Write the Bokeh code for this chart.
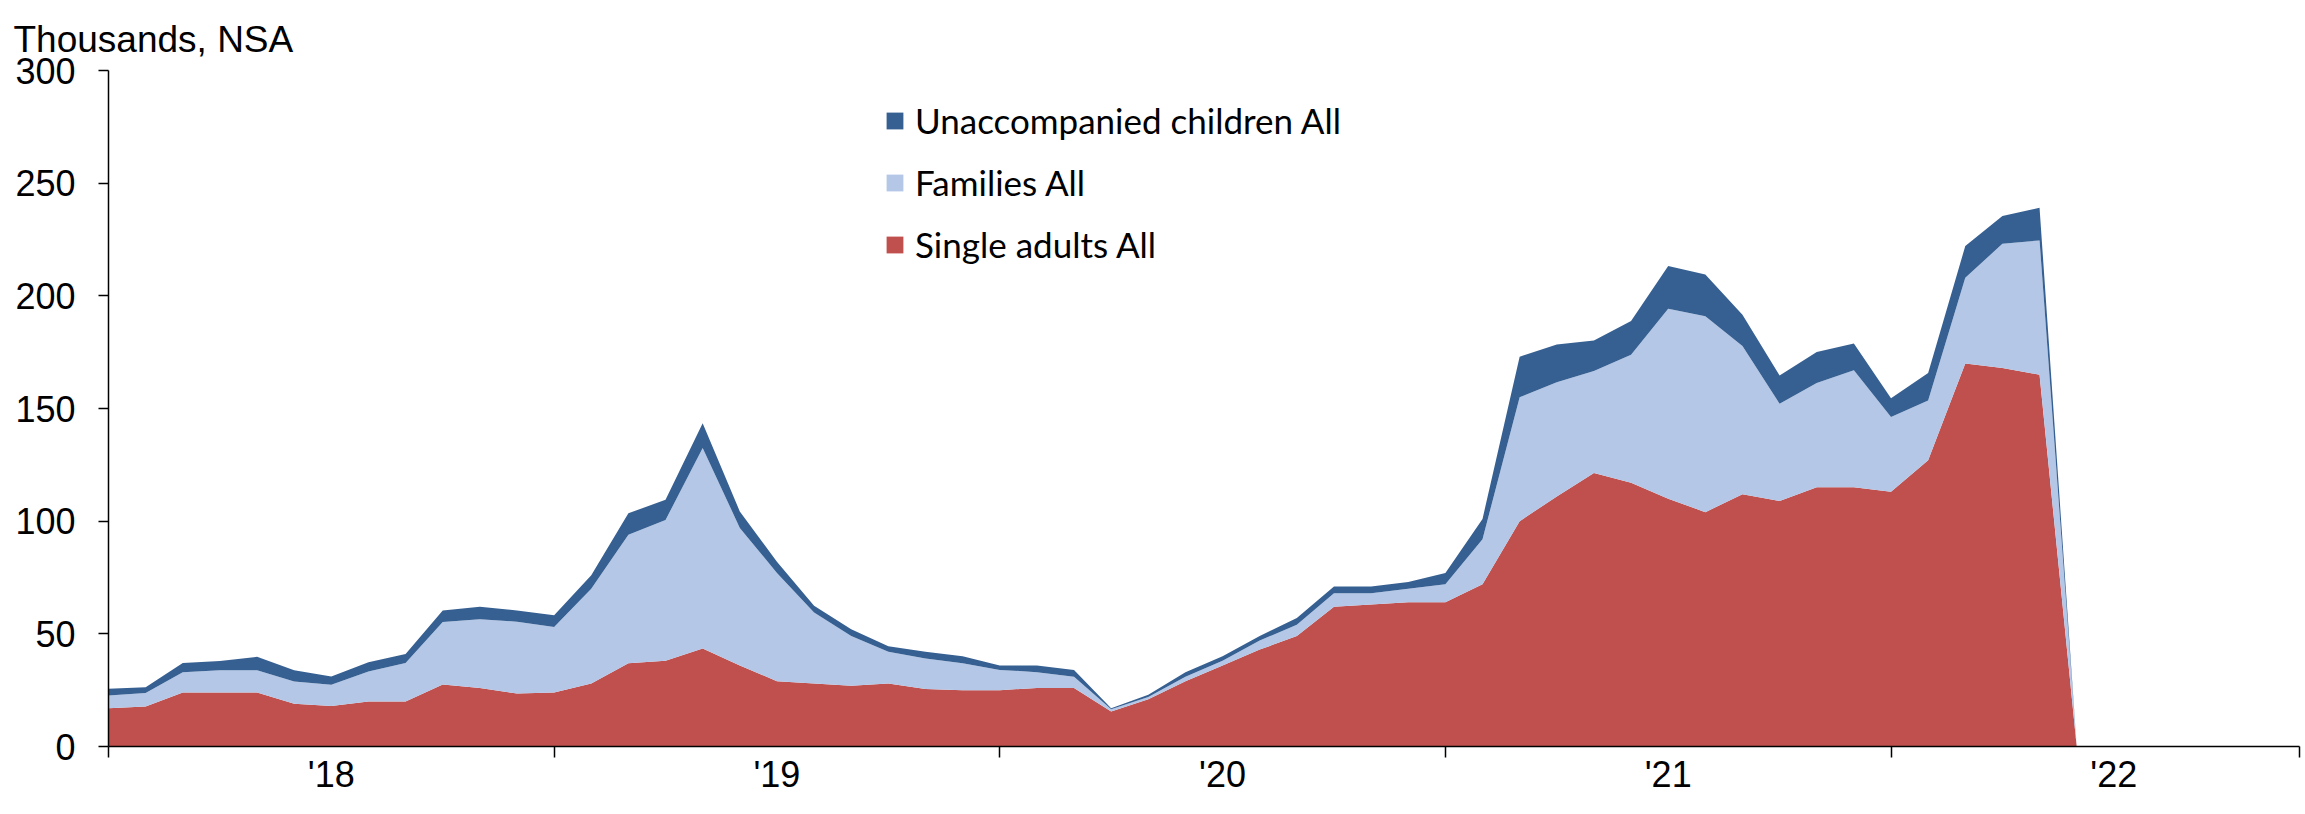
from bokeh.plotting import figure
from bokeh.models import ColumnDataSource, FixedTicker, Legend, LegendItem, Range1d
from bokeh.embed import file_html
from bokeh.resources import INLINE

# Monthly encounters, thousands, NSA; fiscal years FY18..FY22 (Oct 2017 start)
year_labels = ["'18", "'19", "'20", "'21", "'22"]
months_per_year = 12
axis_months = 60

single_adults = [17, 17.7, 24, 24, 24, 19, 18, 20, 20, 27.5, 26, 23.5,
                 24, 28, 37, 38, 43.5, 36, 29, 28, 27, 28, 25.5, 25,
                 25, 26, 26, 15.5, 21, 29, 36, 43, 49, 62, 63, 64,
                 64, 72, 100, 111, 121.4, 117, 110, 104, 112, 109, 115, 115,
                 113, 127, 170, 168, 165, 0]
families = [5.6, 6.0, 9, 9.8, 9.8, 9.8, 9.4, 13.3, 17.1, 27.7, 30.5, 31.9,
            29, 42, 57, 62.5, 89, 61, 48, 31.5, 22, 14, 13.5, 12,
            9, 7, 5, 1, 1, 2, 2, 4, 5, 6, 5, 6,
            8, 20, 55, 50.7, 45.2, 56.8, 84.3, 86.9, 65.7, 43.1, 46.3, 52,
            33.2, 26.6, 38, 55.1, 59.6, 0]
unaccompanied = [3.0, 2.6, 4.1, 4.1, 6, 5, 3.7, 4.1, 4, 5.2, 5.5, 5,
                 5.2, 6, 9.5, 9, 11, 7.3, 5, 3, 3, 2.5, 3, 3,
                 2, 3, 3, 0.5, 1, 2, 2, 2, 3, 3, 3, 3,
                 5, 9, 18, 16.7, 13.6, 15, 18.9, 18.6, 13.9, 12.6, 13.8, 11.8,
                 8.4, 12.1, 14.1, 12.3, 14.5, 0]

series_names = ["Single adults All", "Families All", "Unaccompanied children All"]
series_colors = ["#C0504D", "#B4C7E7", "#376092"]

month_idx = list(range(len(single_adults)))
source = ColumnDataSource(dict(x=month_idx, single=single_adults,
                               families=families, uac=unaccompanied))

p = figure(width=2305, height=814, output_backend="svg", toolbar_location=None,
           x_range=Range1d(0, axis_months - 1), y_range=Range1d(0, 300),
           min_border_left=108, min_border_right=6, min_border_top=70,
           min_border_bottom=68, title="Thousands, NSA")

rs = p.varea_stack(stackers=["single", "families", "uac"], x="x",
                   color=series_colors, source=source)

# x axis: boundary ticks between fiscal years, year labels centred in each year
xa = p.xaxis[0]
label_pos = [months_per_year * k + months_per_year // 2 for k in range(len(year_labels))]
bounds = [months_per_year * k for k in range(len(year_labels))] + [axis_months - 1]
xa.ticker = FixedTicker(ticks=label_pos, minor_ticks=bounds)
xa.major_label_overrides = {pos: lab for pos, lab in zip(label_pos, year_labels)}
xa.major_tick_out = 0
xa.major_tick_in = 0
xa.minor_tick_out = 11
xa.minor_tick_in = 0
xa.major_label_standoff = -4
xa.major_label_text_line_height = 1.0

ya = p.yaxis[0]
ya.ticker = FixedTicker(ticks=[0, 50, 100, 150, 200, 250, 300], minor_ticks=[])
ya.major_tick_out = 10
ya.major_tick_in = 0
ya.minor_tick_out = 0
ya.minor_tick_in = 0
ya.major_label_standoff = 23

for ax in (xa, ya):
    ax.axis_line_color = "black"
    ax.axis_line_width = 1.5
    ax.major_tick_line_color = "black"
    ax.major_tick_line_width = 1.5
    ax.minor_tick_line_color = "black"
    ax.minor_tick_line_width = 1.5
    ax.major_label_text_font = "Liberation Sans"
    ax.major_label_text_font_size = "36px"
    ax.major_label_text_color = "black"

p.xgrid.visible = False
p.ygrid.visible = False
p.outline_line_color = None
p.background_fill_color = "white"

p.title.text_font = "Liberation Sans"
p.title.text_font_size = "37px"
p.title.text_font_style = "normal"
p.title.text_color = "black"
p.title.align = "left"
p.title.offset = -95
p.title.standoff = 22

legend = Legend(items=[LegendItem(label=series_names[2], renderers=[rs[2]]),
                       LegendItem(label=series_names[1], renderers=[rs[1]]),
                       LegendItem(label=series_names[0], renderers=[rs[0]])],
                location=(776, 481))
legend.glyph_width = 21
legend.glyph_height = 21
legend.label_height = 21
legend.spacing = 20
legend.padding = 0
legend.margin = 0
legend.label_standoff = 10
legend.border_line_color = None
legend.background_fill_alpha = 0
legend.label_text_font = "Lato"
legend.label_text_font_size = "35px"
legend.label_text_color = "black"
p.add_layout(legend)

open("out.html", "w").write(file_html(p, INLINE))
